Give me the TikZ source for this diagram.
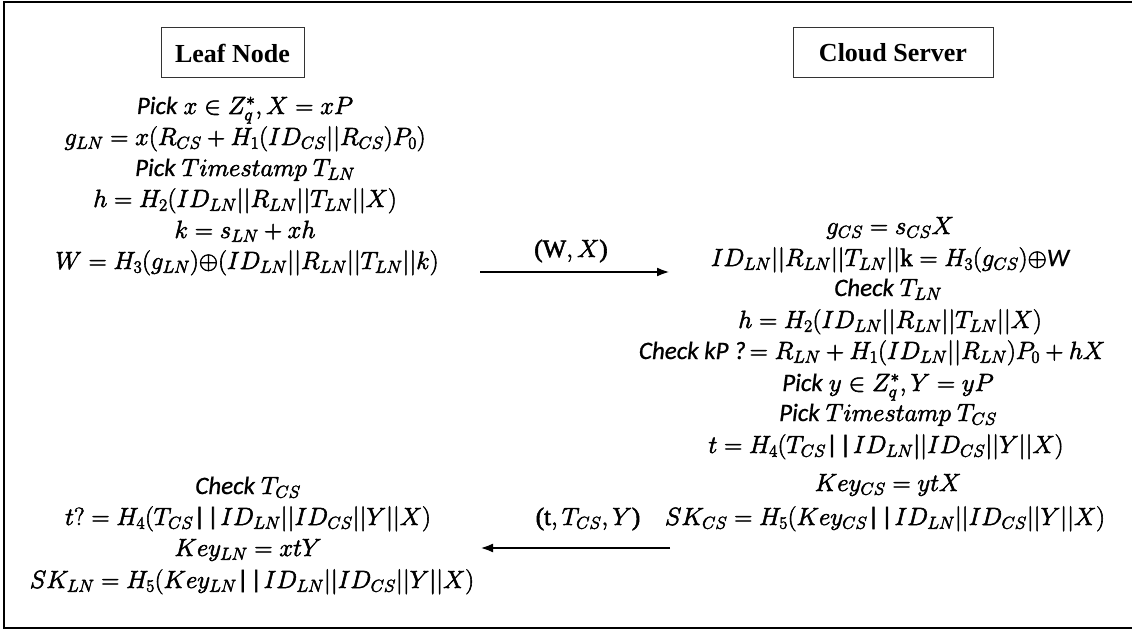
\documentclass[tikz,border=0pt]{standalone}
\usepackage{fontspec}
\setmainfont{Liberation Serif}
\newfontfamily\calib{Carlito}
\usetikzlibrary{arrows.meta}
\newcommand{\heavyon}{\special{pdf:literal direct 2 Tr 0.55 w}}
\newcommand{\lighton}{\special{pdf:literal direct 2 Tr 0.2 w}}
\newcommand{\heavyoff}{\special{pdf:literal direct 0 Tr}}
\newcommand{\ibar}{\mbox{\calib\itshape\kern1pt|\kern2pt|\kern1pt}}
\newcommand{\cw}[1]{\mbox{\lighton\calib\itshape #1\heavyon}}
\newcommand{\xo}{\mathord{\oplus}}
\begin{document}
\begin{tikzpicture}[x=1pt,y=-1pt,
  row/.style={anchor=base, inner sep=0pt, font=\fontsize{25}{29}\selectfont,
    execute at begin node=\heavyon, execute at end node=\heavyoff},
  titlebox/.style={draw=black!80, line width=1pt, minimum height=50pt, inner sep=0pt, font=\fontsize{26}{30}\selectfont\bfseries},
  msg/.style={line width=2.5pt, -{Latex[length=13pt,width=9pt]}}]
\useasboundingbox (0,0) rectangle (1132,631);
\draw[line width=2pt] (1132,2) -- (4,2) -- (4,628) -- (1132,628);

\node[titlebox, minimum width=143pt] (leaf) at (232.5,53) {Leaf Node};
\node[titlebox, minimum width=200pt] (cloud) at (893,53) {Cloud Server};

% Leaf node computations
\node[row] (l1) at (245,114) {\cw{Pick} $x \in Z_q^{*}, X = xP$};
\node[row] (l2) at (245,145) {$g_{LN} = x(R_{CS} + H_1(ID_{CS}||R_{CS})P_0)$};
\node[row] (l3) at (245,176) {\cw{Pick} $Timestamp\ T_{LN}$};
\node[row] (l4) at (245,207) {$h = H_2(ID_{LN}\big||R_{LN}\big||T_{LN}||X)$};
\node[row] (l5) at (245,238) {$k = s_{LN} + xh$};
\node[row] (l6) at (247,269) {$W = H_3(g_{LN})\xo(ID_{LN}\big||R_{LN}\big||T_{LN}||k)$};

% message 1
\coordinate (m1s) at (480,272);
\coordinate (m1e) at (670,272);
\draw[msg] (m1s) -- (m1e);
\node[row] (lab1) at (571,257) {(W$,X$)};

% Cloud server computations
\node[row] (r1) at (890,234) {$g_{CS} = s_{CS}X$};
\node[row] (r2) at (890,266) {$ID_{LN}\big||R_{LN}\big||T_{LN}||\mathrm{k} = H_3(g_{CS})\xo$\cw{W}};
\node[row] (r3) at (888,296) {\cw{Check} $T_{LN}$};
\node[row] (r4) at (890,328) {$h = H_2(ID_{LN}\big||R_{LN}\big||T_{LN}||X)$};
\node[row] (r5) at (872,359) {\cw{Check kP ?}$\,= R_{LN} + H_1(ID_{LN}||R_{LN})P_0 + hX$};
\node[row] (r6) at (888,391) {\cw{Pick} $y \in Z_q^{*}, Y = yP$};
\node[row] (r7) at (888,421) {\cw{Pick} $Timestamp\ T_{CS}$};
\node[row] (r8) at (886,453) {$t = H_4(T_{CS}$\ibar$ID_{LN}||ID_{CS}||Y||X)$};
\node[row] (r9) at (888,491) {$Key_{CS} = ytX$};
\node[row] (r10) at (885,525) {$SK_{CS} = H_5(Key_{CS}$\ibar$ID_{LN}||ID_{CS}||Y||X)$};

% message 2
\coordinate (m2s) at (670,548);
\coordinate (m2e) at (480,548);
\draw[msg] (m2s) -- (m2e);
\node[row] (lab2) at (588,525) {(t$,T_{CS},Y$)};

% Leaf node final computations
\node[row] (b1) at (248,494) {\cw{Check} $T_{CS}$};
\node[row] (b2) at (248,525) {$t? = H_4(T_{CS}$\ibar$ID_{LN}||ID_{CS}||Y||X)$};
\node[row] (b3) at (248,556) {$Key_{LN} = xtY$};
\node[row] (b4) at (252,588) {$SK_{LN} = H_5(Key_{LN}$\ibar$ID_{LN}||ID_{CS}||Y||X)$};
\end{tikzpicture}
\end{document}
